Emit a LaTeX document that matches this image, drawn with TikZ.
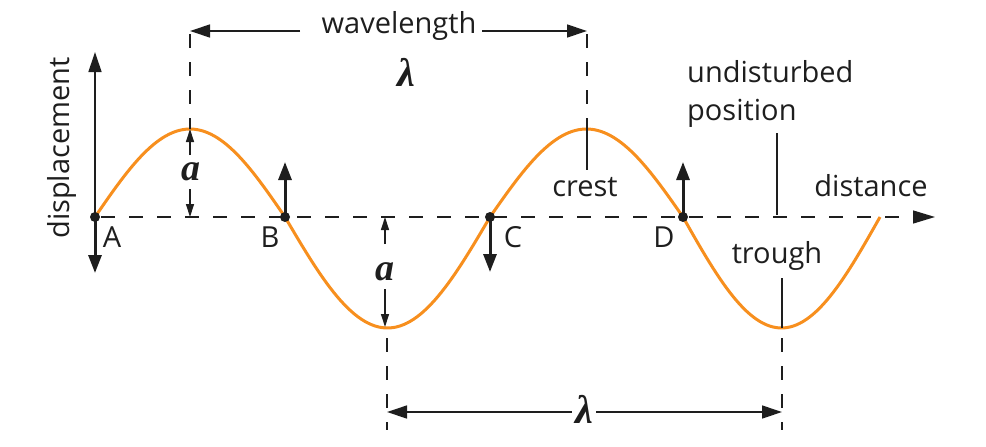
\documentclass[tikz,border=0pt]{standalone}
\usepackage{fontspec}
\setmainfont{Open Sans}
\newfontfamily\lamfont{Liberation Serif}
\usetikzlibrary{arrows.meta}
\definecolor{waveorange}{RGB}{247,143,30}
\definecolor{inkcol}{RGB}{30,30,30}
\begin{document}
\begin{tikzpicture}[x=1pt,y=-1pt,
  wave/.style={line width=3pt, color=waveorange},
  guide/.style={line width=1.3pt, draw=inkcol},
  dashline/.style={guide, dash pattern=on 14pt off 14pt, dash phase=-6pt},
  thinarrow/.style={guide, -{Triangle[length=20pt,width=13pt]}},
  thinarrowsmall/.style={guide, -{Triangle[length=13pt,width=8pt]}},
  thickarrow/.style={line width=3pt, draw=inkcol, -{Triangle[length=18pt,width=13pt]}},
  lbl/.style={font=\fontsize{29}{34}\selectfont, text=inkcol, inner sep=0pt},
  sym/.style={font=\lamfont\bfseries\itshape\fontsize{#1}{#1}\selectfont, text=inkcol, inner sep=0pt},
  dot/.style={circle, fill=inkcol, inner sep=0pt, minimum size=10pt}
]
\useasboundingbox (0,0) rectangle (986,447);

% key coordinates
\coordinate (A) at (95,217);
\coordinate (B) at (285,217);
\coordinate (C) at (490,217);
\coordinate (D) at (683,217);
\coordinate (E) at (880,217);
\coordinate (crest1) at (190,129);
\coordinate (crest2) at (587,129);
\coordinate (trough1) at (387,328);
\coordinate (trough2) at (782,328);
\coordinate (axisend) at (935,217);
\coordinate (dispend) at (95,52);

% axes
\draw[dashline] (A) -- (913,217);
\draw[guide, -{Triangle[length=22pt,width=13pt]}] (913,217) -- (axisend);
\draw[thinarrow] (A) -- (dispend);

% wave
\draw[wave] plot[domain=0:180, samples=60] ({95+\x/180*190},{217-88*sin(\x)})
  -- plot[domain=0:180, samples=60] ({285+\x/180*205},{217+111*sin(\x)})
  -- plot[domain=0:180, samples=60] ({490+\x/180*193},{217-88*sin(\x)})
  -- plot[domain=0:180, samples=60] ({683+\x/180*197},{217+111*sin(\x)});

% vertical guides
\coordinate (top1) at (190,28);
\coordinate (top2) at (587,28);
\draw[dashline] (top1) -- (crest1);
\draw[dashline] (top2) -- (crest2);
\coordinate (bot1) at (387,430);
\coordinate (bot2) at (782,430);
\draw[dashline] (387,332) -- (bot1);
\draw[dashline] (782,332) -- (bot2);

% wavelength (top)
\node[lbl] (wl) at (399,26) {wavelength};
\coordinate (wlL) at (300,31);
\coordinate (wlR) at (482,31);
\draw[thinarrow] (wlL) -- (190,31);
\draw[thinarrow] (wlR) -- (587,31);
\node[sym=40] (lam1) at (406,72) {λ};

% wavelength (bottom)
\node[sym=40] (lam2) at (584,409) {λ};
\draw[thinarrow] (lam2.west) ++(-3,3) -- (387,412);
\draw[thinarrow] (lam2.east) ++(3,3) -- (782,412);

% amplitude a
\node[sym=38] (a1) at (191,172) {a};
\draw[thinarrowsmall] (190,155) -- (crest1);
\draw[thinarrowsmall] (190,189) -- (190,217);
\node[sym=38] (a2) at (385,272) {a};
\draw[thinarrowsmall] (385,244) -- (385,217);
\draw[thinarrowsmall] (385,289) -- (385,327);

% particle arrows and dots
\draw[thickarrow] (A) -- (95,273);
\draw[thickarrow] (B) -- (285,162);
\draw[thickarrow] (C) -- (490,272);
\draw[thickarrow] (D) -- (683,162);
\node[dot] (dA) at (A) {};
\node[dot] (dB) at (B) {};
\node[dot] (dC) at (C) {};
\node[dot] (dD) at (D) {};

% point labels
\node[lbl] (lA) at (112,237) {A};
\node[lbl] (lB) at (270,237) {B};
\node[lbl] (lC) at (513,237) {C};
\node[lbl] (lD) at (664,237) {D};

% other labels
\node[lbl, rotate=90] (disp) at (62,148) {displacement};
\node[lbl] (crestlbl) at (585,187) {crest};
\draw[guide] (crest2) -- (587,170);
\node[lbl, anchor=base west] (und) at (687,82) {undisturbed};
\node[lbl, anchor=base west] (pos) at (687,120) {position};
\draw[guide] (777,133) -- (777,215);
\node[lbl, anchor=base] (dist) at (871,196) {distance};
\node[lbl, anchor=base] (trgh) at (777,263) {trough};
\draw[guide] (782,278) -- (trough2);
\end{tikzpicture}
\end{document}
